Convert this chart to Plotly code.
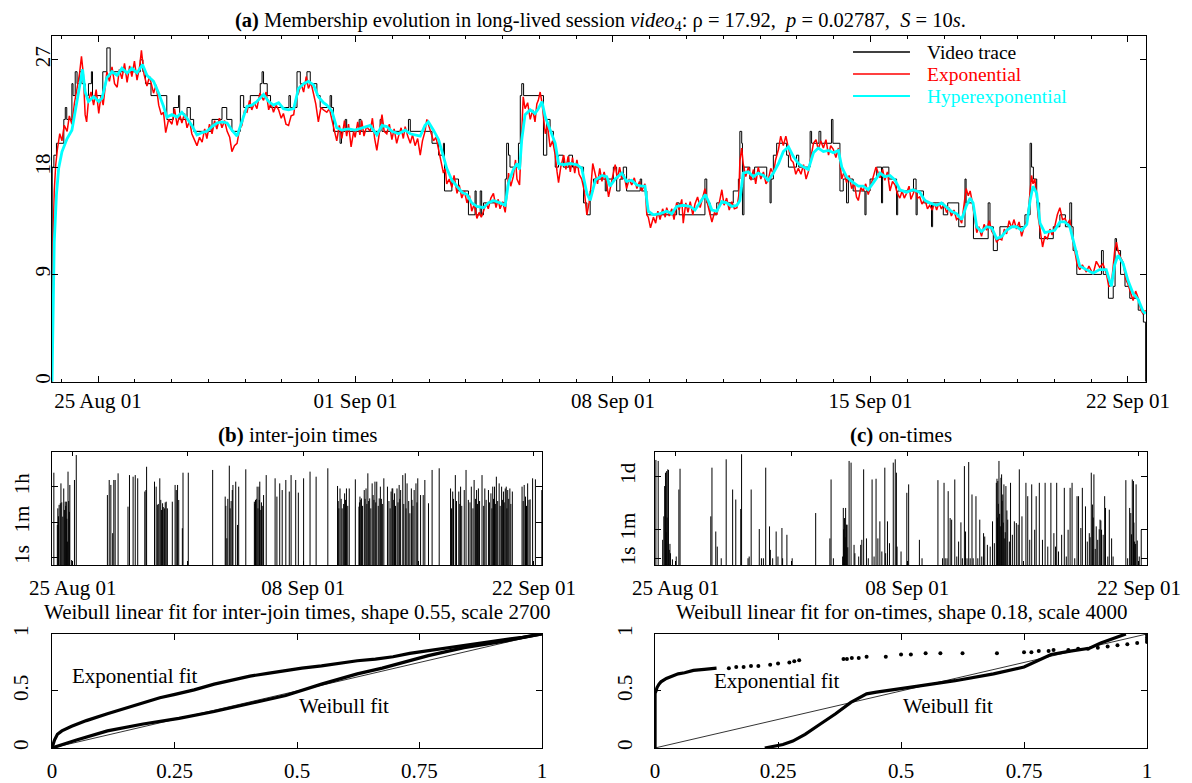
import plotly.graph_objects as go
import pandas as pd

FONT = "Liberation Serif"
FS = 21
BASE = pd.Timestamp("2001-08-25")

# ---------------- (a) membership evolution (days relative to 25 Aug 2001) ----------------
video_day = [-1.25, -1.245, -1.20, -1.13, -0.93, -0.89, -0.85, -0.71, -0.68, -0.62, -0.57, -0.50, -0.44, -0.35,
             -0.26, -0.18, -0.15, 0.13, 0.24, 0.33, 1.15, 1.22, 1.29, 1.44, 1.87, 2.05, 2.19, 2.22, 2.42, 2.51,
             2.60, 3.10, 3.37, 3.50, 3.64, 3.87, 3.96, 4.14, 4.41, 4.46, 4.50, 4.60, 4.69, 5.19, 5.23, 5.41,
             5.50, 5.68, 5.77, 5.95, 6.04, 6.31, 6.35, 6.40, 6.58, 6.62, 6.72, 6.76, 7.10, 7.15, 7.67, 7.72,
             8.44, 8.49, 9.08, 9.26, 9.39, 9.42, 9.62, 9.80, 10.07, 10.25, 10.28, 10.39, 10.43, 10.48, 11.07,
             11.11, 11.16, 11.20, 11.43, 11.48, 11.52, 11.57, 12.11, 12.20, 12.29, 12.38, 12.43, 12.52, 12.65,
             12.80, 12.90, 13.20, 13.29, 13.38, 13.47, 13.79, 13.83, 14.01, 14.10, 14.19, 14.28, 14.37, 14.74,
             14.78, 14.92, 15.73, 15.80, 16.50, 16.55, 16.64, 16.82, 17.27, 17.41, 17.45, 17.50, 17.52, 17.56,
             17.72, 17.85, 18.18, 18.27, 18.30, 18.36, 18.45, 18.72, 18.77, 18.99, 19.05, 19.36, 19.40, 19.60,
             19.65, 19.94, 19.98, 20.17, 20.26, 20.35, 20.40, 20.53, 20.85, 20.88, 20.99, 21.17, 21.30, 21.33,
             21.50, 21.71, 21.74, 22.17, 22.24, 22.27, 22.44, 22.66, 22.69, 22.98, 23.10, 23.40, 23.57, 23.60,
             23.80, 24.20, 24.25, 24.34, 24.45, 24.52, 25.20, 25.34, 25.38, 25.43, 25.52, 25.60, 25.97, 26.15,
             26.30, 26.42, 26.47, 26.51, 26.61, 27.28, 27.33, 27.47, 27.60, 27.65, 27.69, 27.80, 27.92, 28.05,
             28.28, 28.42, 28.48]
video_val = [0, 18, 19, 20, 22, 23, 22, 25, 24, 26, 25, 26, 25, 24,
             25, 26, 24, 26, 28, 26, 27, 26, 25, 24, 22, 23, 24, 22, 23, 22,
             21, 22, 23, 22, 21, 24, 23, 24, 25, 26, 25, 24, 23, 24, 23, 26,
             25, 26, 25, 24, 23, 24, 23, 21, 20, 21, 22, 21, 22, 21, 22, 21,
             22, 21, 20, 19, 20, 16, 17, 16, 14, 16, 14, 16, 14, 15, 17,
             20, 19, 18, 20, 24, 25, 24, 19, 22, 21, 20, 18, 19, 18,
             19, 18, 15, 14, 16, 17, 16, 17, 18, 16, 17, 18, 16, 17,
             16, 14, 15, 14, 17, 15, 14, 15, 16, 17, 21, 20, 14, 18,
             17, 18, 17, 15, 17, 19, 20, 19, 18, 19, 18, 21, 20, 21,
             20, 22, 20, 16, 17, 15, 17, 16, 14, 16, 17, 18, 15, 18,
             17, 14, 16, 17, 14, 16, 15, 13, 15, 14, 15, 13, 17, 15,
             12, 15, 13, 11, 12, 13, 14, 20, 18, 17, 15, 12, 13, 14,
             13, 15, 13, 11, 9, 11, 9, 7, 8, 12, 11, 9, 8, 7,
             6, 5, 0]

expo_day = [-1.25, -1.24, -1.22, -1.19, -1.15, -1.10, -1.04, -0.98, -0.92, -0.84, -0.78, -0.71, -0.64, -0.57,
            -0.50, -0.45, -0.40, -0.35, -0.31, -0.26, -0.19, -0.12, -0.05, 0.02, 0.08, 0.14, 0.24, 0.31, 0.38,
            0.45, 0.52, 0.58, 0.65, 0.72, 0.79, 0.86, 0.92, 0.99, 1.06, 1.13, 1.18, 1.25, 1.33, 1.40, 1.51,
            1.58, 1.65, 1.72, 1.78, 1.84, 1.92, 2.01, 2.08, 2.15, 2.22, 2.28, 2.35, 2.42, 2.49, 2.55, 2.62,
            2.69, 2.76, 2.83, 2.90, 2.96, 3.03, 3.10, 3.17, 3.23, 3.30, 3.37, 3.44, 3.51, 3.58, 3.64, 3.71,
            3.78, 3.85, 3.91, 3.98, 4.05, 4.12, 4.18, 4.25, 4.32, 4.40, 4.50, 4.57, 4.64, 4.70, 4.77, 4.84,
            4.91, 4.98, 5.04, 5.11, 5.18, 5.25, 5.32, 5.38, 5.45, 5.52, 5.59, 5.66, 5.72, 5.79, 5.86, 5.92,
            5.99, 6.06, 6.13, 6.22, 6.29, 6.36, 6.42, 6.49, 6.56, 6.63, 6.70, 6.76, 6.81, 6.88, 6.95, 6.99,
            7.06, 7.12, 7.17, 7.23, 7.30, 7.40, 7.46, 7.52, 7.58, 7.65, 7.72, 7.78, 7.85, 7.92, 7.99, 8.05,
            8.12, 8.17, 8.24, 8.30, 8.35, 8.42, 8.49, 8.55, 8.62, 8.69, 8.76, 8.82, 8.89, 8.94, 8.98, 9.05,
            9.12, 9.19, 9.26, 9.33, 9.39, 9.44, 9.48, 9.55, 9.62, 9.68, 9.76, 9.82, 9.89, 9.96, 10.03, 10.10,
            10.16, 10.23, 10.30, 10.36, 10.42, 10.48, 10.55, 10.61, 10.68, 10.75, 10.82, 10.88, 10.93, 11.00,
            11.07, 11.12, 11.16, 11.22, 11.29, 11.35, 11.39, 11.46, 11.50, 11.52, 11.56, 11.61, 11.68, 11.75,
            11.82, 11.88, 11.93, 11.97, 12.02, 12.07, 12.12, 12.16, 12.22, 12.29, 12.36, 12.43, 12.48, 12.52,
            12.58, 12.66, 12.72, 12.78, 12.84, 12.90, 12.96, 13.02, 13.08, 13.15, 13.22, 13.29, 13.35, 13.38,
            13.45, 13.52, 13.58, 13.64, 13.70, 13.76, 13.83, 13.88, 13.92, 13.99, 14.06, 14.12, 14.18, 14.24,
            14.30, 14.37, 14.44, 14.51, 14.58, 14.65, 14.72, 14.78, 14.87, 14.92, 14.96, 15.02, 15.10, 15.16,
            15.22, 15.28, 15.35, 15.42, 15.46, 15.53, 15.60, 15.66, 15.73, 15.80, 15.87, 15.91, 15.98, 16.04,
            16.10, 16.17, 16.23, 16.30, 16.37, 16.44, 16.50, 16.55, 16.60, 16.65, 16.69, 16.76, 16.82, 16.89,
            16.96, 17.02, 17.09, 17.16, 17.23, 17.30, 17.37, 17.42, 17.45, 17.50, 17.54, 17.61, 17.68, 17.75,
            17.82, 17.88, 17.95, 18.02, 18.09, 18.16, 18.22, 18.29, 18.36, 18.42, 18.50, 18.56, 18.63, 18.70,
            18.77, 18.84, 18.90, 18.97, 19.04, 19.11, 19.18, 19.25, 19.31, 19.38, 19.45, 19.52, 19.58, 19.65,
            19.72, 19.79, 19.86, 19.92, 19.99, 20.06, 20.13, 20.19, 20.22, 20.28, 20.35, 20.42, 20.49, 20.56,
            20.62, 20.67, 20.74, 20.80, 20.87, 20.94, 21.01, 21.08, 21.15, 21.20, 21.26, 21.33, 21.39, 21.46,
            21.53, 21.60, 21.67, 21.73, 21.80, 21.86, 21.92, 21.98, 22.05, 22.10, 22.16, 22.22, 22.28, 22.34,
            22.40, 22.48, 22.55, 22.61, 22.68, 22.74, 22.80, 22.86, 22.93, 23.00, 23.07, 23.14, 23.20, 23.27,
            23.34, 23.41, 23.48, 23.54, 23.60, 23.66, 23.71, 23.76, 23.79, 23.84, 23.89, 23.95, 24.02, 24.09,
            24.16, 24.23, 24.30, 24.37, 24.43, 24.50, 24.57, 24.64, 24.70, 24.77, 24.84, 24.90, 24.97, 25.04,
            25.11, 25.18, 25.25, 25.30, 25.34, 25.38, 25.42, 25.47, 25.52, 25.56, 25.61, 25.68, 25.74, 25.81,
            25.88, 25.94, 26.01, 26.08, 26.15, 26.22, 26.29, 26.35, 26.42, 26.49, 26.56, 26.62, 26.69, 26.76,
            26.87, 26.94, 27.05, 27.14, 27.23, 27.32, 27.41, 27.48, 27.55, 27.60, 27.64, 27.69, 27.73, 27.80,
            27.87, 27.94, 28.00, 28.07, 28.14, 28.21, 28.28, 28.35, 28.41, 28.48]
expo_val = [0, 5.5, 12.3, 16.0, 18.2, 19.6, 20.8, 20.2, 21.5, 21.0, 22.3, 21.6, 23.4, 24.6,
            25.9, 27.3, 25.8, 22.4, 21.8, 23.6, 24.3, 23.2, 24.5, 22.5, 24.0, 23.2, 26.0, 25.2, 26.4,
            25.0, 24.7, 26.2, 25.4, 26.7, 25.1, 26.5, 25.6, 26.9, 25.3, 26.4, 27.8, 25.8, 24.8, 25.6, 24.2,
            24.9, 23.2, 22.4, 22.6, 20.9, 22.0, 21.6, 22.9, 21.5, 22.4, 21.7, 22.5, 21.3, 21.9, 20.8, 20.3,
            19.8, 20.5, 20.1, 21.2, 20.4, 21.6, 20.8, 21.9, 21.2, 22.1, 21.3, 21.9, 21.0, 20.5, 19.3, 19.8,
            20.0, 21.2, 21.5, 22.7, 22.6, 23.6, 22.8, 23.4, 22.9, 24.2, 23.6, 24.3, 22.8, 23.4, 22.6, 23.2,
            22.8, 22.1, 22.5, 21.6, 21.5, 22.3, 22.4, 23.8, 24.2, 25.0, 24.3, 25.6, 24.6, 25.1, 24.2, 23.3,
            21.8, 23.0, 22.8, 22.6, 22.9, 21.9, 21.2, 20.2, 21.5, 20.4, 21.9, 20.6, 21.6, 19.7, 21.0, 20.5,
            21.8, 20.7, 21.9, 20.6, 21.4, 21.0, 22.1, 20.4, 19.4, 20.8, 22.4, 21.0, 20.8, 21.6, 20.3, 21.2,
            20.0, 20.6, 21.3, 20.4, 21.4, 20.6, 20.0, 20.7, 19.8, 20.4, 19.0, 20.2, 21.0, 22.0, 21.6, 21.0,
            20.2, 20.5, 19.5, 18.4, 17.5, 17.9, 16.6, 17.0, 16.3, 17.3, 15.8, 16.5, 15.4, 16.0, 15.0, 15.6,
            14.3, 14.9, 13.7, 14.2, 13.8, 14.3, 15.0, 14.5, 15.4, 15.8, 14.6, 15.3, 14.5, 15.1,
            14.2, 15.8, 17.5, 16.4, 17.2, 18.6, 17.0, 16.5, 19.0, 21.5, 23.9, 22.9, 23.4, 22.0,
            22.8, 21.8, 23.3, 23.6, 24.3, 23.4, 21.8, 20.8, 21.5, 19.7, 20.2, 19.0, 17.6, 16.7,
            18.0, 19.0, 17.8, 18.9, 17.6, 18.8, 17.5, 18.6, 17.4, 17.0, 16.0, 14.0, 15.0, 15.6,
            18.3, 17.5, 16.6, 17.9, 16.8, 17.6, 16.6, 15.5, 16.2, 17.2, 18.2, 17.0, 18.0, 17.0,
            17.4, 16.2, 17.0, 16.5, 17.1, 16.2, 16.8, 16.0, 16.6, 14.0, 13.8, 12.9, 13.8, 13.3,
            14.3, 13.6, 14.5, 13.8, 14.6, 13.9, 14.5, 13.6, 15.0, 14.4, 15.3, 13.3, 15.0, 14.2,
            15.1, 14.0, 14.9, 15.5, 14.6, 15.4, 16.2, 15.2, 14.6, 13.9, 13.4, 14.2, 14.0, 15.0,
            16.1, 14.8, 15.4, 14.4, 15.1, 14.5, 14.6, 15.6, 18.5, 19.6, 18.3, 17.2, 18.0, 16.9,
            17.8, 16.6, 18.0, 17.0, 17.6, 16.6, 16.9, 17.9, 17.4, 18.6, 19.5, 20.6, 19.8, 20.6,
            19.5, 18.6, 18.4, 17.4, 17.9, 17.4, 18.2, 17.0, 17.6, 19.0, 20.0, 20.3, 19.5, 20.2,
            19.6, 20.3, 19.0, 19.8, 19.5, 18.8, 19.6, 17.8, 17.0, 17.6, 16.7, 17.3, 16.2, 16.7,
            15.5, 15.2, 16.3, 16.0, 16.6, 15.7, 16.5, 17.2, 18.0, 17.6, 17.1, 17.8, 16.9, 17.6,
            16.0, 16.8, 16.5, 15.8, 15.4, 16.0, 15.4, 15.8, 16.4, 15.3, 15.8, 16.2, 15.4, 15.5,
            14.9, 15.3, 14.5, 14.8, 14.4, 15.0, 14.4, 15.0, 14.5, 14.9, 14.2, 14.6, 13.9, 14.4,
            13.6, 13.8, 13.3, 14.9, 16.2, 15.6, 16.0, 15.2, 14.6, 13.4, 12.5, 13.0, 12.2, 13.2,
            12.7, 13.5, 12.6, 12.3, 11.7, 12.0, 11.9, 12.8, 12.4, 13.5, 12.9, 13.6, 12.8, 13.4,
            12.2, 13.0, 13.5, 14.6, 16.0, 17.3, 16.6, 17.0, 15.4, 13.8, 12.8, 11.3, 12.2, 12.0,
            12.8, 12.3, 13.0, 14.0, 14.6, 13.6, 13.7, 13.2, 13.6, 12.0, 10.9, 9.8, 9.4, 9.8,
            9.2, 9.7, 9.0, 10.1, 9.6, 9.9, 9.1, 8.0, 8.1, 9.5, 11.0, 11.7, 11.0, 10.4,
            10.0, 8.6, 8.2, 7.5, 6.8, 7.6, 7.0, 6.0, 5.7, 6.0]

hyper_day = [-1.25, -1.22, -1.19, -1.13, -1.07, -0.98, -0.84, -0.71, -0.57, -0.48, -0.42, -0.35, -0.26, -0.12,
             0.02, 0.11, 0.24, 0.38, 0.52, 0.65, 0.79, 0.92, 1.06, 1.21, 1.33, 1.51, 1.65, 1.78, 1.87, 2.01,
             2.15, 2.28, 2.42, 2.55, 2.69, 2.83, 2.96, 3.10, 3.23, 3.37, 3.51, 3.64, 3.78, 3.91, 4.05, 4.18,
             4.32, 4.50, 4.64, 4.77, 4.91, 5.04, 5.18, 5.32, 5.45, 5.59, 5.72, 5.86, 5.99, 6.13, 6.22, 6.36,
             6.49, 6.63, 6.81, 6.99, 7.17, 7.40, 7.58, 7.72, 7.85, 7.99, 8.17, 8.35, 8.49, 8.62, 8.76, 8.89,
             8.98, 9.12, 9.26, 9.39, 9.48, 9.62, 9.76, 9.89, 10.03, 10.16, 10.30, 10.48, 10.61, 10.75, 10.93,
             11.07, 11.16, 11.29, 11.39, 11.46, 11.52, 11.61, 11.75, 11.88, 11.97, 12.07, 12.16, 12.29, 12.43,
             12.52, 12.66, 12.84, 13.02, 13.15, 13.29, 13.38, 13.52, 13.70, 13.83, 13.92, 14.06, 14.24, 14.37,
             14.51, 14.65, 14.78, 14.87, 14.96, 15.10, 15.28, 15.46, 15.60, 15.73, 15.91, 16.10, 16.23, 16.37,
             16.51, 16.60, 16.69, 16.82, 16.96, 17.09, 17.23, 17.37, 17.45, 17.54, 17.68, 17.82, 17.95, 18.09,
             18.22, 18.36, 18.50, 18.63, 18.77, 18.90, 19.04, 19.18, 19.31, 19.45, 19.58, 19.72, 19.86, 19.99,
             20.13, 20.22, 20.35, 20.49, 20.67, 20.80, 20.94, 21.08, 21.26, 21.39, 21.53, 21.67, 21.80, 21.98,
             22.16, 22.34, 22.48, 22.61, 22.80, 22.93, 23.07, 23.20, 23.34, 23.48, 23.60, 23.71, 23.79, 23.89,
             24.02, 24.16, 24.30, 24.43, 24.57, 24.70, 24.84, 24.97, 25.11, 25.25, 25.34, 25.42, 25.52, 25.61,
             25.74, 25.88, 26.01, 26.15, 26.29, 26.42, 26.56, 26.69, 26.87, 27.05, 27.23, 27.41, 27.55, 27.64,
             27.73, 27.87, 28.00, 28.14, 28.28, 28.41, 28.48]
hyper_val = [0, 6.2, 11.7, 15.7, 17.9, 19.3, 20.4, 21.1, 23.5, 25.2, 26.2, 24.3, 23.5, 23.9,
             23.5, 23.8, 25.5, 26.0, 25.7, 26.3, 25.9, 26.3, 25.9, 26.6, 25.7, 25.2, 24.2, 23.1, 22.2, 22.4,
             22.2, 22.6, 22.1, 21.5, 20.7, 20.9, 21.0, 21.4, 21.7, 21.8, 21.7, 21.1, 20.6, 21.8, 23.1, 23.2,
             23.5, 24.1, 23.5, 23.2, 23.4, 22.9, 22.8, 22.9, 24.6, 25.0, 25.2, 24.9, 23.9, 23.4, 23.2, 22.7,
             21.3, 21.1, 21.2, 21.1, 21.3, 21.5, 20.7, 21.5, 21.4, 21.0, 20.8, 21.1, 20.8, 20.7, 20.6, 21.5,
             21.8, 21.1, 20.3, 18.9, 17.9, 16.9, 16.4, 15.9, 15.7, 15.0, 14.7, 14.6, 15.0, 15.2, 15.0,
             14.8, 16.7, 17.8, 18.3, 17.8, 20.3, 22.4, 22.8, 22.5, 22.9, 23.5, 22.2, 21.1, 20.0,
             18.3, 18.2, 18.3, 18.2, 17.9, 15.8, 15.2, 16.9, 17.3, 17.2, 16.4, 17.0, 17.5, 16.8,
             16.9, 16.5, 16.4, 16.4, 14.3, 14.0, 14.1, 14.3, 14.1, 14.7, 14.8, 14.7, 14.4, 15.0,
             15.7, 15.1, 14.4, 14.3, 15.1, 15.0, 14.7, 14.8, 15.2, 17.5, 17.6, 17.2, 17.5, 17.3,
             16.9, 17.5, 18.3, 19.3, 19.7, 18.9, 18.3, 18.0, 17.8, 19.2, 19.6, 19.3, 19.4, 19.2,
             19.4, 18.0, 17.2, 16.8, 16.4, 16.4, 16.1, 16.7, 17.5, 17.2, 17.3, 16.9, 16.1, 15.9,
             16.1, 15.9, 15.2, 15.0, 14.8, 15.0, 14.6, 14.3, 14.1, 13.6, 14.7, 15.4, 15.0, 13.0,
             12.6, 13.0, 12.9, 12.0, 12.2, 12.7, 13.0, 13.0, 12.7, 13.2, 15.2, 16.4, 15.8, 13.3,
             12.5, 12.6, 12.7, 13.4, 13.4, 13.0, 11.3, 9.7, 9.4, 9.1, 9.4, 9.4, 8.0, 9.8,
             10.6, 9.9, 8.5, 7.4, 6.9, 5.9, 5.7]

main_tick_dates = ["2001-08-25", "2001-09-01", "2001-09-08", "2001-09-15", "2001-09-22"]
main_tick_text = ["25 Aug 01", "01 Sep 01", "08 Sep 01", "15 Sep 01", "22 Sep 01"]
main_y_ticks = [0, 9, 18, 27]
legend_names = ["Video trace", "Exponential", "Hyperexponential"]
legend_colors = ["black", "#ff0000", "#00ffff"]

# ---------------- (b) inter-join times (day, seconds) ----------------
ij_day = [-1.14, -0.93, -0.82, -0.75, -0.71, -0.60, -0.54, -0.45, -0.38, -0.32, -0.28, -0.17, -0.06, 0.11, 0.22,
          2.11, 2.22, 2.32, 2.43, 2.50, 2.58, 2.76, 3.36, 3.45, 3.67, 3.80, 3.95, 4.38, 4.45, 4.49, 4.97, 5.07,
          5.14, 5.29, 5.40, 5.46, 5.57, 5.68, 5.75, 6.05, 6.22, 6.29, 6.37, 6.44, 6.66, 6.70, 7.02, 8.50, 9.26,
          9.36, 9.51, 9.69, 9.73, 9.90, 10.01, 10.08, 10.51, 11.03, 11.10, 11.20, 11.31, 11.36, 11.42, 11.59,
          11.75, 12.29, 12.40, 12.57, 12.72, 12.94, 13.15, 13.26, 13.54, 13.70, 14.02, 14.41, 14.78, 15.49,
          16.08, 16.23, 16.36, 16.51, 16.62, 16.79, 17.16, 17.38, 17.44, 17.53, 17.70, 17.81, 17.92, 18.03,
          18.18, 18.24, 18.35, 18.46, 18.61, 18.68, 18.89, 19.11, 19.33, 19.39, 19.43, 19.54, 19.69, 19.82,
          19.91, 20.04, 20.19, 20.30, 20.47, 20.56, 20.73, 20.84, 20.95, 21.12, 21.28, 21.38, 21.60, 21.82,
          22.25, 22.94, 23.07, 23.23, 23.44, 23.55, 23.77, 23.88, 24.20, 24.37, 24.52, 24.63, 24.85, 25.02,
          25.24, 25.39, 25.50, 25.61, 25.72, 25.89, 26.04, 26.15, 26.26, 26.32, 26.41, 26.54, 26.69, 27.28,
          27.41, 27.49, 27.62, 27.77, 27.92, 28.09, 28.48,
          -0.90, -0.86, -0.66, -0.50, -0.42, -0.35, -0.24, -0.20, 5.20, 5.35, 5.50, 5.62, 9.30, 9.42, 9.56,
          9.62, 11.06, 11.15, 11.25, 11.33, 11.46, 11.51, 16.12, 16.16, 16.30, 16.45, 16.56, 16.70, 17.41,
          17.49, 17.60, 17.75, 17.86, 17.97, 18.10, 18.29, 18.40, 18.55, 18.74, 18.80, 19.20, 19.27, 19.49,
          19.60, 19.75, 19.86, 20.10, 20.24, 20.40, 20.60, 20.66, 20.90, 23.00, 23.12, 23.30, 23.50, 23.62,
          24.02, 24.12, 24.30, 24.45, 24.58, 24.70, 24.95, 25.10, 25.30, 25.45, 25.55, 25.66, 25.80, 25.95,
          26.10, 26.20, 26.36, 26.47, 26.60, 27.35, 27.55, 27.70, 27.85]
ij_sec = [18600, 44, 450, 540, 5400, 115, 3000, 650, 650, 6.4, 21000, 4500, 0.76, 8000, 144000,
          1400, 8000, 4500, 17, 8000, 8000, 17300, 365, 14100, 11700, 14100, 9700, 2100, 2500, 37000, 6600, 3700,
          450, 9700, 250, 540, 300, 650, 300, 650, 4500, 2500, 4500, 790, 30, 18600, 18600, 25500, 1170,
          9.4, 42000, 2500, 4500, 6600, 44, 3700, 27500, 650, 790, 3700, 3700, 6600, 250, 1400,
          14100, 9700, 1170, 5400, 2500, 8000, 2100, 14100, 8000, 1850, 9700, 21000, 11700, 31000,
          4000, 3000, 300, 1700, 3000, 3000, 8600, 365, 1170, 950, 2500, 3000, 17300, 950,
          5400, 1400, 6600, 6600, 950, 3700, 9700, 3700, 2100, 3000, 3000, 1700, 3000, 4500,
          2500, 14100, 17300, 5400, 170, 3000, 2500, 5400, 9700, 1400, 1400, 8000, 540, 25500,
          31000, 3000, 2100, 14100, 2100, 3700, 2500, 25500, 3700, 8000, 2500, 3000, 14100, 3000,
          2500, 1700, 3700, 3700, 11700, 5400, 3700, 2100, 3000, 3700, 2500, 3000, 2100, 3700,
          4500, 1170, 5400, 850, 9700, 8600, 2500,
          300, 120, 600, 250, 400, 90, 700, 200, 500, 800, 350, 600, 400, 900, 300,
          700, 500, 900, 300, 800, 600, 400, 700, 300, 900, 500, 800, 400, 600,
          800, 400, 900, 500, 700, 300, 800, 600, 400, 900, 500, 700, 300,
          800, 400, 600, 900, 500, 300, 700, 800, 400, 600, 300, 900, 700, 500,
          400, 800, 600, 300, 900, 500, 700, 400, 800, 600, 300, 900, 500, 700,
          400, 800, 600, 300, 900, 500, 700, 400, 800]

# ---------------- (c) on-times (day, seconds) ----------------
on_day = [-1.20, -1.06, -0.79, -0.72, -0.67, -0.62, -0.55, -0.48, -0.44, -0.39, -0.32, -0.20, 0.03, 0.19, 0.26,
          2.12, 2.19, 2.42, 2.51, 2.75, 3.05, 3.44, 3.63, 3.93, 3.98, 4.37, 4.44, 4.56, 5.05, 5.18, 5.30, 5.44,
          5.67, 5.72, 5.86, 6.07, 6.18, 6.42, 6.46, 6.72, 7.04, 8.46, 9.32, 9.39, 9.53, 10.09, 10.13, 10.20,
          10.27, 10.32, 10.36, 10.48, 10.60, 10.78, 10.83, 11.06, 11.18, 11.25, 11.36, 11.53, 11.64, 11.87,
          11.99, 12.11, 12.22, 12.34, 12.46, 12.64, 12.69, 12.80, 12.92, 13.15, 13.27, 13.34, 13.38, 13.62,
          13.97, 14.08, 14.73, 14.89, 15.85, 16.13, 16.22, 16.29, 16.40, 16.47, 16.59, 16.68, 16.87, 16.99,
          17.10, 17.24, 17.33, 17.45, 17.52, 17.61, 17.71, 17.80, 17.91, 17.98, 18.15, 18.26, 18.38, 18.50,
          18.61, 18.68, 18.84, 19.01, 19.15, 19.26, 19.38, 19.42, 19.47, 19.54, 19.66, 19.70, 19.77, 19.84,
          19.89, 19.96, 20.07, 20.17, 20.24, 20.35, 20.47, 20.59, 20.70, 20.77, 20.93, 21.17, 21.28, 21.40,
          21.52, 21.70, 21.79, 21.98, 22.17, 22.33, 22.49, 22.68, 22.86, 22.96, 23.03, 23.14, 23.33, 23.49,
          23.61, 23.72, 23.84, 23.96, 24.12, 24.26, 24.35, 24.49, 24.58, 24.77, 24.88, 25.00, 25.12, 25.19,
          25.28, 25.42, 25.51, 25.65, 25.74, 25.84, 25.93, 25.98, 26.12, 26.21, 26.35, 26.44, 27.21, 27.32,
          27.44, 27.51, 27.60, 27.67, 27.74, 27.83, 27.90, 28.02, 28.14,
          -0.58, -0.52, -0.35, 10.15, 10.24, 10.40, 19.45, 19.50, 19.58, 19.62, 19.73, 19.80, 19.92, 20.02,
          25.05, 25.24, 25.36, 25.60, 25.70, 27.55, 27.70, 27.80]
on_sec = [840000, 730000, 14, 355, 23000, 145000, 180000, 230000, 210000, 3.5, 2.2, 0.95, 1.4, 14300, 250000,
          355, 290000, 44, 5.5, 1.1, 920000, 14300, 3600, 980, 1850000, 1.1, 1.4, 14300, 62, 1.1, 1.1, 290000,
          89, 3.5, 1.1, 44, 1.4, 71, 1.1, 28, 1.1, 560, 17, 57000, 1.1, 1.4, 1130, 280,
          1130, 112, 112, 730000, 580000, 7, 2.2, 1.4, 7, 14, 230000, 17, 1.1, 57000,
          1.4, 63000, 17, 178, 2.8, 290000, 2.2, 178, 8.8, 580000, 920000, 145000, 5.5, 2.8,
          9100, 29000, 14, 1.1, 52000, 1.1, 36000, 1.1, 1.1, 11400, 280, 225, 57000, 1.4,
          11, 155, 1.1, 360000, 44, 1.1, 630000, 1.1, 7200, 1.1, 5700, 1.1, 225, 1.4,
          35, 22, 7, 5.5, 178, 8.8, 36000, 63000, 46000, 730000, 72000, 115000, 7200, 29000,
          17, 23000, 225, 11, 36000, 28, 178, 141, 112, 230000, 355, 36000, 5700, 14,
          29000, 56, 5700, 36000, 14, 36000, 5.5, 36000, 35, 5.5, 36000, 2.8, 28, 18000,
          1.4, 56, 18000, 36000, 1.1, 5700, 5700, 71, 18000, 1400, 11, 35, 145000, 1800,
          115000, 89, 14, 225, 56, 28, 5700, 1130, 1.4, 890, 17, 1.4, 52000, 1.1,
          1130, 560, 57000, 46000, 11, 29000, 12.7, 1.4, 56,
          40, 300, 8, 60, 20, 5, 300, 2000, 500, 90, 3000, 150, 40, 800,
          20, 300, 4, 60, 200, 30, 150, 8]

sub_label_dates = ["2001-08-25", "2001-09-08", "2001-09-22"]
sub_label_text = ["25 Aug 01", "08 Sep 01", "22 Sep 01"]

# ---------------- (d) Weibull / exponential fits, inter-join ----------------
d_exp_x = [0, 0.005, 0.011, 0.02, 0.04, 0.07, 0.113, 0.15, 0.186, 0.22, 0.251, 0.29, 0.331, 0.37, 0.404,
           0.44, 0.477, 0.51, 0.55, 0.59, 0.623, 0.66, 0.696, 0.73, 0.768, 0.80, 0.841, 0.88, 0.914, 0.96, 1.0]
d_exp_y = [0, 0.07, 0.12, 0.15, 0.19, 0.24, 0.30, 0.35, 0.40, 0.44, 0.47, 0.51, 0.56, 0.60, 0.63,
           0.655, 0.68, 0.70, 0.72, 0.745, 0.765, 0.78, 0.80, 0.83, 0.855, 0.87, 0.90, 0.925, 0.945, 0.97, 1.0]
d_wei_x = [0, 0.01, 0.05, 0.113, 0.186, 0.259, 0.331, 0.404, 0.477, 0.55, 0.623, 0.674, 0.768, 0.841, 0.914, 1.0]
d_wei_y = [0, 0.015, 0.07, 0.15, 0.21, 0.26, 0.32, 0.39, 0.46, 0.56, 0.65, 0.70, 0.81, 0.88, 0.93, 1.0]

# ---------------- (e) Weibull / exponential fits, on-times ----------------
e_exp_x = [0, 0, 0.002, 0.004, 0.008, 0.012, 0.023, 0.035, 0.047, 0.06, 0.078, 0.10, 0.125]
e_exp_y = [0, 0.48, 0.50, 0.53, 0.56, 0.58, 0.61, 0.63, 0.65, 0.66, 0.68, 0.69, 0.70]
e_exp_dots_x = [0.15, 0.165, 0.18, 0.195, 0.21, 0.234, 0.25, 0.273, 0.283, 0.293, 0.383, 0.39, 0.40, 0.414,
                0.43, 0.469, 0.50, 0.52, 0.55, 0.58, 0.625, 0.695, 0.75, 0.765, 0.78, 0.80, 0.81, 0.84, 0.86,
                0.88, 0.90, 0.92, 0.94, 0.96, 0.98, 1.0, 1.0, 1.0, 1.0]
e_exp_dots_y = [0.70, 0.71, 0.71, 0.72, 0.72, 0.73, 0.74, 0.75, 0.76, 0.77, 0.78, 0.78, 0.79, 0.79,
                0.80, 0.80, 0.82, 0.82, 0.83, 0.83, 0.83, 0.83, 0.84, 0.84, 0.85, 0.85, 0.86, 0.86, 0.87,
                0.87, 0.88, 0.89, 0.90, 0.91, 0.92, 0.93, 0.95, 0.97, 0.99]
e_wei_x = [0.223, 0.242, 0.26, 0.28, 0.305, 0.336, 0.367, 0.398, 0.43, 0.45, 0.477, 0.531, 0.61, 0.688,
           0.75, 0.781, 0.805, 0.844, 0.883, 0.906, 0.945, 0.957]
e_wei_y = [0, 0.015, 0.03, 0.06, 0.12, 0.21, 0.30, 0.40, 0.475, 0.49, 0.505, 0.54, 0.59, 0.65,
           0.71, 0.77, 0.82, 0.85, 0.875, 0.92, 0.98, 1.0]
diag_x = [0, 1]
diag_y = [0, 1]
unit_ticks = [0, 0.25, 0.5, 0.75, 1]
unit_ticktext = ["0", "0.25", "0.5", "0.75", "1"]


def to_dt(days):
    return [BASE + pd.Timedelta(days=float(d)) for d in days]


def spikes(days, vals, base):
    xs, ys = [], []
    for t, v in zip(to_dt(days), vals):
        xs += [t, t, None]
        ys += [base, v, None]
    return xs, ys


fig = go.Figure()

# (a)
fig.add_trace(go.Scatter(x=to_dt(video_day), y=video_val, mode="lines",
                         line=dict(color="black", width=1, shape="hv"), name=legend_names[0],
                         showlegend=False, xaxis="x", yaxis="y"))
fig.add_trace(go.Scatter(x=to_dt(expo_day), y=expo_val, mode="lines", line=dict(color="#ff0000", width=1.5),
                         name=legend_names[1], showlegend=False, xaxis="x", yaxis="y"))
fig.add_trace(go.Scatter(x=to_dt(hyper_day), y=hyper_val, mode="lines", line=dict(color="#00ffff", width=2.8),
                         name=legend_names[2], showlegend=False, xaxis="x", yaxis="y"))

# (b), (c)
bx, by = spikes(ij_day, ij_sec, 0.1)
fig.add_trace(go.Scatter(x=bx, y=by, mode="lines", line=dict(color="black", width=1), showlegend=False,
                         xaxis="x2", yaxis="y2"))
cx, cy = spikes(on_day, on_sec, 0.1)
fig.add_trace(go.Scatter(x=cx, y=cy, mode="lines", line=dict(color="black", width=1), showlegend=False,
                         xaxis="x3", yaxis="y3"))

# (d)
fig.add_trace(go.Scatter(x=diag_x, y=diag_y, mode="lines", line=dict(color="black", width=0.8), showlegend=False,
                         xaxis="x4", yaxis="y4"))
fig.add_trace(go.Scatter(x=d_exp_x, y=d_exp_y, mode="lines", line=dict(color="black", width=3.2), showlegend=False,
                         xaxis="x4", yaxis="y4"))
fig.add_trace(go.Scatter(x=d_wei_x, y=d_wei_y, mode="lines", line=dict(color="black", width=3.2), showlegend=False,
                         xaxis="x4", yaxis="y4"))
# (e)
fig.add_trace(go.Scatter(x=diag_x, y=diag_y, mode="lines", line=dict(color="black", width=0.8), showlegend=False,
                         xaxis="x5", yaxis="y5"))
fig.add_trace(go.Scatter(x=e_exp_x, y=e_exp_y, mode="lines", line=dict(color="black", width=3.2), showlegend=False,
                         xaxis="x5", yaxis="y5"))
fig.add_trace(go.Scatter(x=e_exp_dots_x, y=e_exp_dots_y, mode="markers", marker=dict(color="black", size=4),
                         showlegend=False, xaxis="x5", yaxis="y5"))
fig.add_trace(go.Scatter(x=e_wei_x, y=e_wei_y, mode="lines", line=dict(color="black", width=3.2), showlegend=False,
                         xaxis="x5", yaxis="y5"))

TICKFONT = dict(family=FONT, size=FS, color="black")


def ax(**kw):
    base = dict(showline=True, linecolor="black", linewidth=1, mirror="ticks", ticks="inside",
                tickcolor="black", showgrid=False, zeroline=False, tickfont=TICKFONT, automargin=False)
    base.update(kw)
    return base


date_range = ["2001-08-23 18:00", "2001-09-22 11:45"]
week_minor = dict(tickmode="linear", tick0="2001-08-25", dtick=7 * 86400000, ticklen=4,
                  ticks="inside", tickcolor="black", showgrid=False)

# the page shows the figure 8 px in from the top-left corner, so the figure is 8 px smaller each way
fig.update_layout(
    template="none",
    width=1184, height=775, autosize=False,
    margin=dict(l=0, r=0, t=0, b=0, pad=0),
    paper_bgcolor="white", plot_bgcolor="white",
    font=dict(family=FONT, size=FS, color="black"),
    showlegend=False,
    xaxis=ax(domain=[0.0372, 0.9611], anchor="y", type="date", range=date_range,
             tickmode="array", tickvals=main_tick_dates, ticktext=main_tick_text, ticklen=6,
             ticklabelstandoff=0,
             minor=dict(tickmode="linear", tick0="2001-08-25", dtick=86400000, ticklen=3,
                        ticks="inside", tickcolor="black", showgrid=False)),
    yaxis=ax(domain=[0.5178, 0.9639], anchor="x", range=[0, 29], tickmode="array",
             tickvals=main_y_ticks, ticktext=[str(v) for v in main_y_ticks], tickangle=-90, ticklen=6,
             ticklabelstandoff=-7),
    xaxis2=ax(domain=[0.0372, 0.4510], anchor="y2", type="date", range=date_range, tickmode="array",
              tickvals=sub_label_dates, ticktext=sub_label_text, ticklen=4, ticklabelstandoff=4,
              minor=week_minor),
    yaxis2=ax(domain=[0.2813, 0.4271], anchor="x2", type="log", range=[-0.37, 5.31], tickmode="array",
              tickvals=[1, 60, 3600], ticktext=["1s", "1m", "1h"], tickangle=-90, ticklen=6,
              ticklabelstandoff=14),
    xaxis3=ax(domain=[0.5465, 0.9620], anchor="y3", type="date", range=date_range, tickmode="array",
              tickvals=sub_label_dates, ticktext=sub_label_text, ticklen=4, ticklabelstandoff=4,
              minor=week_minor),
    yaxis3=ax(domain=[0.2813, 0.4271], anchor="x3", type="log", range=[-0.36, 6.4], tickmode="array",
              tickvals=[1, 60, 86400], ticktext=["1s", "1m", "1d"], tickangle=-90, ticklen=6,
              ticklabelstandoff=11),
    xaxis4=ax(domain=[0.0372, 0.4510], anchor="y4", range=[0, 1], tickmode="array",
              tickvals=unit_ticks, ticktext=unit_ticktext, ticklen=6, ticklabelstandoff=4),
    yaxis4=ax(domain=[0.0452, 0.1923], anchor="x4", range=[0, 1], tickmode="array",
              tickvals=[0, 0.5, 1], ticktext=["0", "0.5", "1"], tickangle=-90, ticklen=6,
              ticklabelstandoff=15),
    xaxis5=ax(domain=[0.5465, 0.9620], anchor="y5", range=[0, 1], tickmode="array",
              tickvals=unit_ticks, ticktext=unit_ticktext, ticklen=6, ticklabelstandoff=4),
    yaxis5=ax(domain=[0.0452, 0.1923], anchor="x5", range=[0, 1], tickmode="array",
              tickvals=[0, 0.5, 1], ticktext=["0", "0.5", "1"], tickangle=-90, ticklen=6,
              ticklabelstandoff=14),
)


def note(text, x, y, xref="paper", yref="paper", xanchor="center", color="black", size=FS):
    return dict(text=text, x=x, y=y, xref=xref, yref=yref, xanchor=xanchor, yanchor="middle",
                showarrow=False, font=dict(family=FONT, size=size, color=color))


ann = [
    note("<b>(a)</b> Membership evolution in long-lived session <i>video</i><sub>4</sub>: ρ = 17.92,  "
         "<i>p</i> = 0.02787,  <i>S</i> = 10<i>s</i>.", 0.5, 0.9825, size=20.5),
    note("<b>(b)</b> inter-join times", 0.2441, 0.449),
    note("<b>(c)</b> on-times", 0.7543, 0.449),
    note("Weibull linear fit for inter-join times, shape 0.55, scale 2700", 0.2441, 0.2206),
    note("Weibull linear fit for on-times, shape 0.18, scale 4000", 0.7543, 0.2206),
    note("Exponential fit", 0.17, 0.63, "x4", "y4"),
    note("Weibull fit", 0.596, 0.37, "x4", "y4"),
    note("Exponential fit", 0.248, 0.59, "x5", "y5"),
    note("Weibull fit", 0.596, 0.37, "x5", "y5"),
]

# legend drawn as key lines + coloured labels (paper coordinates)
legend_rows_y = [0.9432, 0.9148, 0.8864]
shapes = []
for name, col, yy in zip(legend_names, legend_colors, legend_rows_y):
    shapes.append(dict(type="line", xref="paper", yref="paper", x0=0.7137, x1=0.7618, y0=yy, y1=yy,
                       line=dict(color=col, width=1.5 if col != "#00ffff" else 2)))
    ann.append(note(name, 0.7745, yy, xanchor="left", color=col, size=19.5))

fig.update_layout(annotations=ann, shapes=shapes)

fig.write_html("out.html")
